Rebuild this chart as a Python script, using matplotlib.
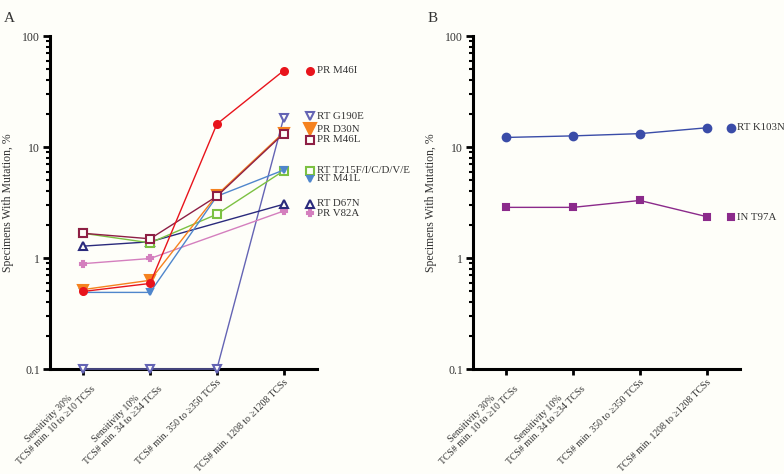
import matplotlib.pyplot as plt
import numpy as np

# categorias del eje x (iguales en los dos paneles)
categories = ["Sensitivity 30%\nTCS# min. 10 to \u226510 TCSs",
              "Sensitivity 10%\nTCS# min. 34 to \u226534 TCSs",
              "TCS# min. 350 to \u2265350 TCSs",
              "TCS# min. 1208 to \u22651208 TCSs"]

# panel A, % de especimenes con mutacion (nan = sin valor)
pr_m46i = [0.5, 0.59, 16.1, 48.7]
rt_g190e = [0.1, 0.1, 0.1, 18.2]
pr_d30n = [0.52, 0.63, 3.7, 13.5]
pr_m46l = [1.67, 1.49, 3.6, 13.2]
rt_t215 = [1.67, 1.37, 2.48, 6.1]
rt_m41l = [0.49, 0.49, 3.6, 6.2]
rt_d67n = [1.28, 1.40, np.nan, 3.05]
pr_v82a = [0.89, 0.99, np.nan, 2.65]

# panel B
rt_k103n = [12.2, 12.6, 13.2, 14.9]
in_t97a = [2.86, 2.86, 3.3, 2.36]

bg = "#fefef9"
txt = "#333333"
plt.rcParams["font.family"] = ["Liberation Serif", "DejaVu Serif"]
plt.rcParams["font.size"] = 8.5

# (nombre, datos, color, marcador, tam, relleno, y de la etiqueta)
series_a = [
    ("RT G190E", rt_g190e, "#6464b4", "v", 5.5, False, 19.0),
    ("PR V82A", pr_v82a, "#d47fbe", "P", 4.5, True, 2.52),
    ("RT D67N", rt_d67n, "#2a2a7c", "^", 5.5, False, 3.08),
    ("RT T215F/I/C/D/V/E", rt_t215, "#7cc142", "s", 5.5, False, 6.1),
    ("RT M41L", rt_m41l, "#4f86cc", "v", 4.5, True, 5.2),
    ("PR D30N", pr_d30n, "#f5821f", "v", 7, True, 14.4),
    ("PR M46L", pr_m46l, "#8e1f45", "s", 5.5, False, 11.6),
    ("PR M46I", pr_m46i, "#e8141c", "o", 5, True, 48.7),
]
series_b = [
    ("RT K103N", rt_k103n, "#3a4ca8", "o", 5.5, True, 14.9),
    ("IN T97A", in_t97a, "#8b2a8b", "s", 5, True, 2.34),
]


def draw_panel(ax, series, mk_x, txt_x):
    x = np.arange(len(categories))
    for name, vals, color, mk, ms, filled, ly in series:
        v = np.array(vals, dtype=float)
        ok = ~np.isnan(v)
        fc = color if filled else bg
        ax.plot(x[ok], v[ok], color=color, lw=1.0, marker=mk, ms=ms,
                mfc=fc, mec=color, mew=1.5, clip_on=False, zorder=3)
        # etiqueta a la derecha
        lms = ms * 1.3 if name == "PR D30N" else ms
        ax.plot([mk_x], [ly], marker=mk, ms=lms, mfc=fc, mec=color, mew=1.5,
                ls="none", clip_on=False, zorder=3)
        ax.text(txt_x, ly, name, va="center", ha="left", fontsize=7.8,
                color=txt, clip_on=False)

    ax.set_yscale("log")
    ax.set_ylim(0.1, 100)
    ax.set_xlim(-0.5, 3.5)
    ax.set_yticks([0.1, 1, 10, 100])
    ax.set_yticklabels(["0.1", "1", "10", "100"])
    ax.set_xticks(x)
    ax.set_xticklabels(categories, rotation=45, ha="right", va="top",
                       rotation_mode="anchor", multialignment="center",
                       fontsize=7, color=txt)
    ax.set_ylabel("Specimens With Mutation, %", fontsize=8.5, color=txt, labelpad=6)
    ax.set_facecolor(bg)
    for s in ["top", "right"]:
        ax.spines[s].set_visible(False)
    for s in ["left", "bottom"]:
        ax.spines[s].set_linewidth(2.2)
    ax.tick_params(axis="y", which="major", length=5, width=2, labelsize=8.5,
                   pad=2, labelcolor=txt)
    ax.tick_params(axis="y", which="minor", length=3, width=1.5)
    ax.tick_params(axis="x", which="major", length=4, width=2, pad=2)


fig = plt.figure(figsize=(7.84, 4.74), dpi=100, facecolor=bg)
ax1 = fig.add_axes([0.0638, 0.2215, 0.3405, 0.7025])
ax2 = fig.add_axes([0.6033, 0.2215, 0.3405, 0.7025])

draw_panel(ax1, series_a, 3.39, 3.5)
draw_panel(ax2, series_b, 3.37, 3.45)

fig.text(0.005, 0.975, "A", fontsize=11, va="top", color=txt)
fig.text(0.545, 0.975, "B", fontsize=11, va="top", color=txt)

fig.savefig("out.png", dpi=100, facecolor=bg)
